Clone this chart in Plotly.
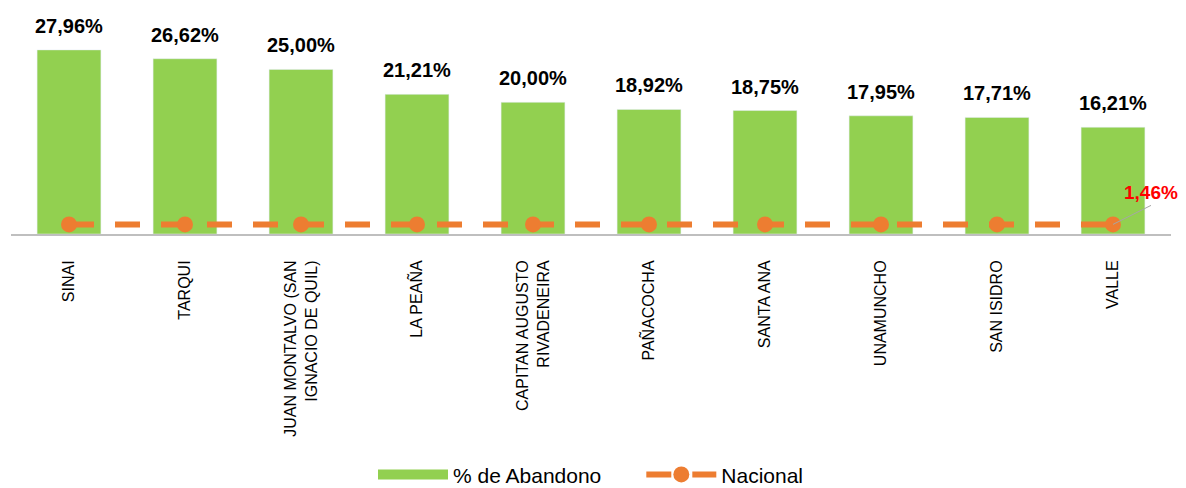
import plotly.graph_objects as go

categories = ["SINAI", "TARQUI", "JUAN MONTALVO (SAN<br>IGNACIO DE QUIL)", "LA PEAÑA",
              "CAPITAN AUGUSTO<br>RIVADENEIRA", "PAÑACOCHA", "SANTA ANA", "UNAMUNCHO",
              "SAN ISIDRO", "VALLE"]
abandono = [27.96, 26.62, 25.00, 21.21, 20.00, 18.92, 18.75, 17.95, 17.71, 16.21]
nacional = [1.46] * 10

GREEN = "#92D050"
ORANGE = "#ED7D31"
FONT = "Liberation Sans, Arial"
NB = "\u00a0"

def fmt(v):
    return f"{v:.2f}".replace(".", ",") + "%"

fig = go.Figure()
fig.add_trace(go.Bar(
    x=categories, y=abandono, name="% de Abandono",
    marker=dict(color=GREEN), showlegend=False, legendgroup="a",
))
# legend-only entry drawn as a wide green band (as in the reference legend)
fig.add_trace(go.Scatter(
    x=[None], y=[None], mode="lines", name="% de Abandono" + NB * 6, legendgroup="a",
    line=dict(color=GREEN, width=14),
))
fig.add_trace(go.Scatter(
    x=categories, y=nacional, name="Nacional", mode="lines+markers",
    line=dict(color=ORANGE, width=6, dash="25px,21px"),
    marker=dict(color=ORANGE, size=16),
))
for c, v in zip(categories, abandono):
    fig.add_annotation(x=c, y=v, text="<b>" + fmt(v) + "</b>", showarrow=False,
                       yanchor="bottom", yshift=11,
                       font=dict(family=FONT, size=20, color="#000000"))
fig.add_annotation(
    x=categories[-1], y=nacional[-1], text="<b>" + fmt(nacional[-1]) + "</b>",
    showarrow=True, arrowhead=0, arrowcolor="#A6A6A6", arrowwidth=1,
    ax=38, ay=-19, xanchor="center", yanchor="bottom",
    font=dict(family=FONT, size=19, color="#FF0000"),
)
fig.update_layout(
    width=1186, height=488,
    margin=dict(l=11, r=15, t=20, b=254, autoexpand=False),
    plot_bgcolor="white", paper_bgcolor="white",
    bargap=0.45,
    font=dict(family=FONT, color="#000000"),
    showlegend=True,
    legend=dict(orientation="h", x=0.5, xanchor="center", yref="paper",
                y=-1.125, yanchor="middle", itemwidth=70,
                font=dict(size=21, color="#000000")),
    xaxis=dict(tickangle=-90, tickfont=dict(size=16), showline=True,
               linecolor="#BFBFBF", linewidth=2, ticks="", automargin=False,
               ticklabelstandoff=18, range=[-0.5, len(categories) - 0.5]),
    yaxis=dict(range=[0, 32.5], visible=False),
)
fig.write_html("out.html", config={"displayModeBar": False},
               post_script="document.body.style.margin='0';document.body.style.overflow='hidden';")
